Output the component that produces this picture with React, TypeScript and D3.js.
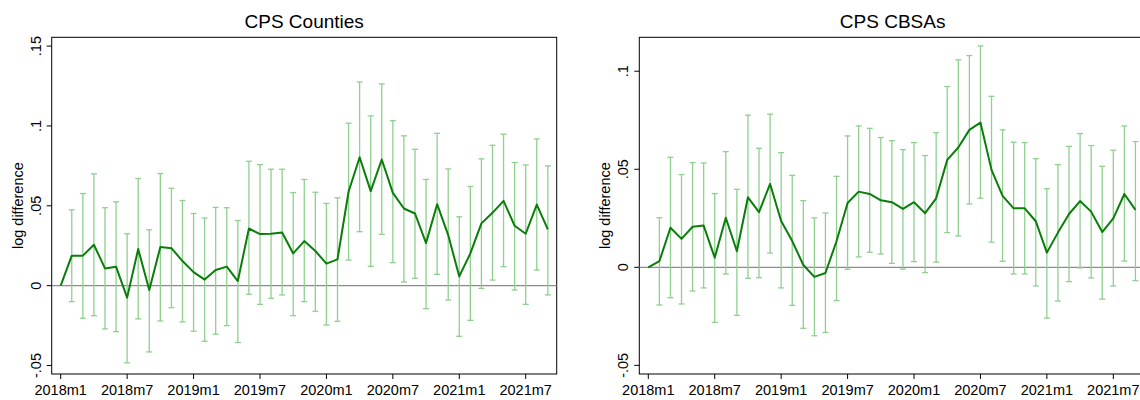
import React from "react";
import * as d3 from "d3";

const months: string[] = [];
for (let y = 2018; y <= 2021; y++) for (let m = 1; m <= 12; m++) months.push(`${y}m${m}`);
const periods = months.slice(0, 45);
const tickLabels = ["2018m1", "2018m7", "2019m1", "2019m7", "2020m1", "2020m7", "2021m1", "2021m7"];

const countiesEst = [0, .0188, .0188, .0256, .0108, .0119, -.0075, .0229, -.0027, .0242, .0235, .0154, .0085, .0038, .0098, .0119, .0029, .0358, .0323, .0325, .0333, .0202, .0279, .0217, .0138, .0165, .0588, .0804, .0592, .079, .0581, .0483, .0452, .0267, .051, .0317, .0058, .0202, .039, .0456, .0531, .0375, .0325, .0508, .0352];
const countiesHi = [0, .0475, .0577, .070, .0488, .0525, .0325, .0671, .035, .0702, .061, .0533, .0452, .0423, .049, .0488, .0408, .0779, .0758, .0729, .0729, .0583, .0665, .0585, .0515, .055, .1017, .1275, .1063, .1263, .1033, .0938, .0854, .0665, .0954, .0731, .0431, .0621, .0794, .0879, .0948, .0771, .0756, .0919, .075];
const countiesLo = [0, -.010, -.0204, -.0188, -.0271, -.0288, -.0483, -.0208, -.0415, -.0221, -.0138, -.0227, -.0285, -.0348, -.0304, -.025, -.0356, -.0054, -.0117, -.0079, -.0058, -.0188, -.010, -.016, -.0246, -.0223, .016, .0338, .0121, .0321, .0144, .0023, .0046, -.0144, .0071, -.009, -.0317, -.0217, -.0017, .0035, .0119, -.0027, -.0117, .0098, -.0058];

const cbsaEst = [0, .0031, .0202, .0145, .0207, .0213, .0049, .0253, .0082, .0357, .0281, .0425, .0236, .0134, .0012, -.0049, -.0029, .0133, .0328, .0386, .0374, .0342, .0332, .0298, .0332, .0276, .0352, .0548, .0611, .0701, .0738, .0497, .0364, .0301, .0301, .0235, .0075, .0177, .0272, .0338, .0284, .018, .025, .0374, .0293];
const cbsaHi = [0, .0253, .0561, .0473, .0534, .0532, .0376, .059, .0398, .0776, .0607, .0781, .0585, .0469, .034, .0252, .0277, .0464, .067, .0721, .0709, .0662, .0646, .060, .0636, .057, .0687, .0922, .1058, .108, .1129, .0872, .0701, .0638, .0636, .0554, .0401, .0524, .0617, .0682, .0621, .0515, .0597, .0721, .0641];
const cbsaLo = [0, -.0192, -.0155, -.0187, -.0121, -.0105, -.0281, -.0034, -.0245, -.0056, -.0053, .0073, -.0105, -.0194, -.0311, -.0349, -.0332, -.017, -.001, .0053, .0077, .0068, .002, -.0009, .0029, -.0027, .0026, .0177, .016, .0323, .0352, .0128, .0031, -.0034, -.0034, -.0095, -.0259, -.0172, -.0073, -.0003, -.0054, -.0162, -.0095, .0032, -.0068];

const countiesTicks = [-0.05, 0, 0.05, 0.1, 0.15];
const cbsaTicks = [-0.05, 0, 0.05, 0.1];
const fmt = (v: number) => (v === 0 ? "0" : (v < 0 ? "-" : "") + String(Math.abs(+v.toFixed(2))).replace(/^0/, ""));

const FONT = "Liberation Sans, Arial, sans-serif";

function Panel(props: { title: string; left: number; right: number; yDomain: [number, number]; ticks: number[]; est: number[]; lo: number[]; hi: number[] }) {
  const { title, left, right, yDomain, ticks, est, lo, hi } = props;
  const top = 37.3, bottom = 374;
  const x0 = left + 9;
  const x = d3.scaleLinear().domain([0, 42]).range([x0, x0 + 465]);
  const y = d3.scaleLinear().domain(yDomain).range([bottom, top]);
  const line = d3.line<number>().x((_, i) => x(i)).y((d) => y(d));
  const cap = 3;
  return (
    <g>
      <text x={(left + right) / 2} y={28.3} textAnchor="middle" fontFamily={FONT} fontSize={19}>{title}</text>
      <rect x={left} y={top} width={right - left} height={bottom - top} fill="none" stroke="#000" strokeWidth={1} />
      <line x1={left} x2={right} y1={y(0)} y2={y(0)} stroke="#8c8c8c" strokeWidth={1.3} />
      {est.map((_, i) => (i === 0 ? null : (
        <g key={i} stroke="#8fd08f" strokeWidth={1.3}>
          <line x1={x(i)} x2={x(i)} y1={y(lo[i])} y2={y(hi[i])} />
          <line x1={x(i) - cap} x2={x(i) + cap} y1={y(lo[i])} y2={y(lo[i])} />
          <line x1={x(i) - cap} x2={x(i) + cap} y1={y(hi[i])} y2={y(hi[i])} />
        </g>
      )))}
      <path d={line(est) || ""} fill="none" stroke="#0a7d0a" strokeWidth={2} strokeLinejoin="round" />
      {ticks.map((t) => (
        <g key={t}>
          <line x1={left - 5} x2={left} y1={y(t)} y2={y(t)} stroke="#000" />
          <text transform={`translate(${left - 11},${y(t)}) rotate(-90)`} textAnchor="middle" fontFamily={FONT} fontSize={14.5}>{fmt(t)}</text>
        </g>
      ))}
      <text transform={`translate(${left - 29},${(top + bottom) / 2}) rotate(-90)`} textAnchor="middle" fontFamily={FONT} fontSize={14.5}>log difference</text>
      {tickLabels.map((lab) => {
        const i = periods.indexOf(lab);
        return (
          <g key={lab}>
            <line x1={x(i)} x2={x(i)} y1={bottom} y2={bottom + 5} stroke="#000" />
            <text x={x(i)} y={395} textAnchor="middle" fontFamily={FONT} fontSize={14.5}>{lab}</text>
          </g>
        );
      })}
    </g>
  );
}

export default function App() {
  return (
    <svg width={1140} height={400} style={{ position: "absolute", left: 0, top: 0, background: "#fff" }}>
      <rect width={1140} height={400} fill="#fff" />
      <Panel title="CPS Counties" left={51.7} right={556.7} yDomain={[-0.0553, 0.1555]} ticks={countiesTicks} est={countiesEst} lo={countiesLo} hi={countiesHi} />
      <Panel title="CPS CBSAs" left={639.3} right={1146} yDomain={[-0.0544, 0.1173]} ticks={cbsaTicks} est={cbsaEst} lo={cbsaLo} hi={cbsaHi} />
    </svg>
  );
}
